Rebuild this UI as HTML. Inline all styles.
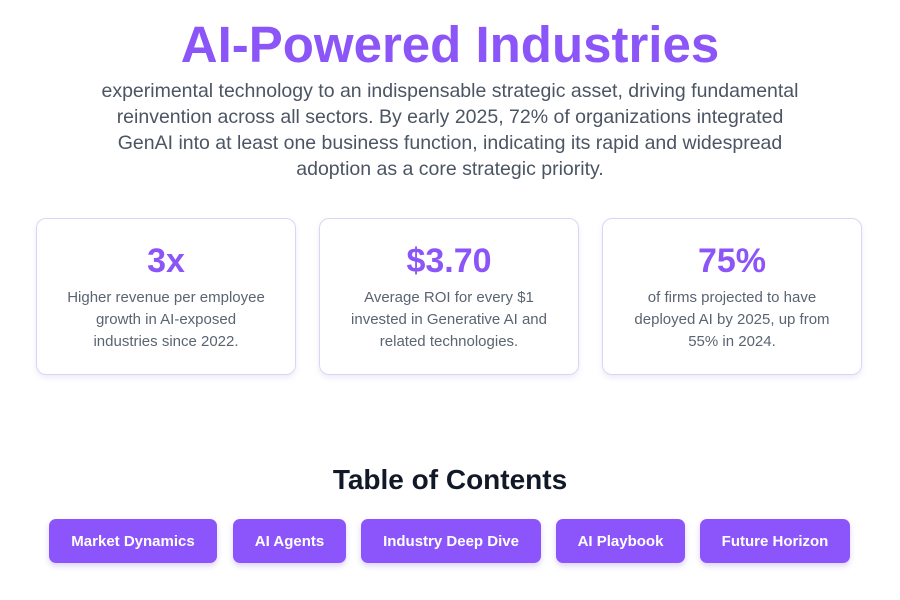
<!DOCTYPE html>
<html><head><meta charset="utf-8"><style>
*{margin:0;padding:0;box-sizing:border-box}
body{width:900px;height:600px;overflow:hidden;background:#fff;font-family:"Liberation Sans",sans-serif;position:relative}
.title{position:absolute;top:15px;left:0;width:900px;text-align:center;font-size:51px;font-weight:bold;color:#8b55f7;letter-spacing:0px}
.intro{position:absolute;top:78px;left:40px;width:820px;text-align:center;font-size:19.5px;line-height:26px;color:#4b5563}
.card{position:absolute;top:218px;width:260px;height:157px;border:1px solid #ddd3f5;border-radius:10px;box-shadow:0 3px 6px rgba(120,90,200,0.12);text-align:center}
.card .num{margin-top:22px;font-size:34px;font-weight:bold;color:#8b55f7;line-height:40px}
.card .desc{margin-top:6px;font-size:15px;line-height:22px;color:#5b6472;padding:0 24px}
.toc{position:absolute;top:464px;left:0;width:900px;text-align:center;font-size:28px;font-weight:bold;color:#111827}
.btn{position:absolute;top:519px;height:44px;border-radius:7px;background:#8b55fb;color:#fff;font-size:15px;font-weight:bold;display:flex;align-items:center;justify-content:center;box-shadow:0 3px 6px rgba(120,80,220,0.25)}
</style></head><body>
<div class="title">AI-Powered Industries</div>
<div class="intro">experimental technology to an indispensable strategic asset, driving fundamental<br>reinvention across all sectors. By early 2025, 72% of organizations integrated<br>GenAI into at least one business function, indicating its rapid and widespread<br>adoption as a core strategic priority.</div>
<div class="card" style="left:36px"><div class="num">3x</div><div class="desc">Higher revenue per employee<br>growth in AI-exposed<br>industries since 2022.</div></div>
<div class="card" style="left:319px"><div class="num">$3.70</div><div class="desc">Average ROI for every $1<br>invested in Generative AI and<br>related technologies.</div></div>
<div class="card" style="left:602px"><div class="num">75%</div><div class="desc">of firms projected to have<br>deployed AI by 2025, up from<br>55% in 2024.</div></div>
<div class="toc">Table of Contents</div>
<div class="btn" style="left:49px;width:168px">Market Dynamics</div>
<div class="btn" style="left:233px;width:113px">AI Agents</div>
<div class="btn" style="left:361px;width:180px">Industry Deep Dive</div>
<div class="btn" style="left:556px;width:129px">AI Playbook</div>
<div class="btn" style="left:700px;width:150px">Future Horizon</div>
</body></html>
